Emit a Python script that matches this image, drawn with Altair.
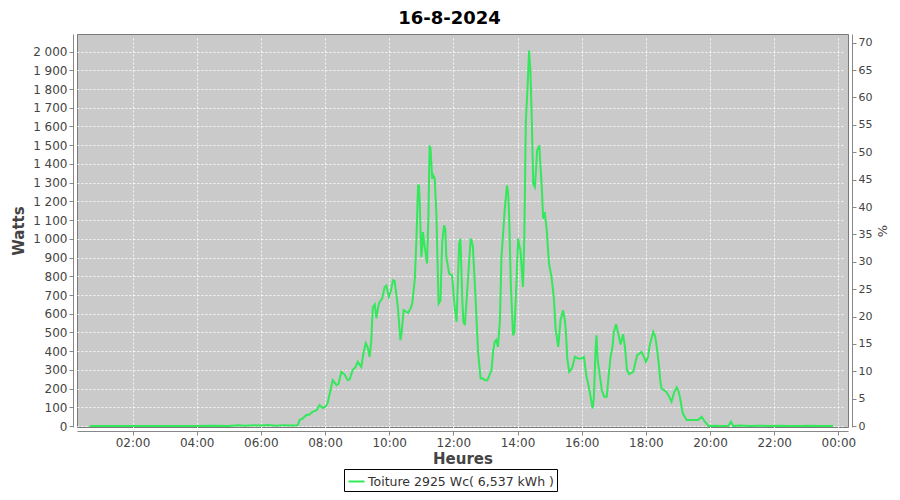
import altair as alt
import pandas as pd

# ---- data ----
hours = [0.66, 1.0, 1.5, 2.0, 2.5, 3.0, 3.5, 4.0, 4.5, 5.0, 5.3, 5.5, 5.8, 6.0, 6.2, 6.5, 6.7, 7.0, 7.1,
         7.15, 7.21, 7.30, 7.42, 7.52, 7.61, 7.74, 7.83, 7.93, 8.02, 8.08, 8.24, 8.36, 8.42, 8.51, 8.61,
         8.71, 8.77, 8.86, 8.95, 9.02, 9.13, 9.20, 9.27, 9.33, 9.39, 9.44, 9.49, 9.55, 9.60, 9.66, 9.70,
         9.78, 9.86, 9.91, 9.99, 10.05, 10.12, 10.17, 10.27, 10.35, 10.39, 10.45, 10.59, 10.67, 10.72,
         10.80, 10.85, 10.90, 10.93, 10.95, 11.00, 11.03, 11.05, 11.11, 11.18, 11.22, 11.26, 11.29, 11.34,
         11.37, 11.42, 11.47, 11.54, 11.60, 11.65, 11.71, 11.75, 11.78, 11.87, 11.96, 12.04, 12.10, 12.18,
         12.22, 12.28, 12.31, 12.36, 12.46, 12.54, 12.57, 12.61, 12.70, 12.77, 12.85, 12.92, 12.98, 13.06,
         13.19, 13.24, 13.29, 13.34, 13.39, 13.45, 13.50, 13.60, 13.67, 13.71, 13.74, 13.79, 13.86, 13.90,
         13.97, 14.02, 14.06, 14.09, 14.17, 14.21, 14.26, 14.31, 14.36, 14.40, 14.44, 14.49, 14.54, 14.57,
         14.61, 14.68, 14.71, 14.75, 14.80, 14.85, 14.91, 14.98, 15.06, 15.13, 15.19, 15.27, 15.34, 15.42,
         15.48, 15.51, 15.55, 15.61, 15.70, 15.79, 15.88, 16.00, 16.07, 16.15, 16.20, 16.26, 16.34, 16.38,
         16.43, 16.46, 16.50, 16.57, 16.63, 16.70, 16.78, 16.83, 16.90, 16.96, 17.00, 17.07, 17.14, 17.21,
         17.29, 17.35, 17.41, 17.48, 17.61, 17.66, 17.73, 17.87, 17.94, 18.00, 18.07, 18.11, 18.18, 18.23,
         18.29, 18.36, 18.41, 18.45, 18.49, 18.63, 18.70, 18.80, 18.88, 18.96, 19.01, 19.06, 19.15, 19.27,
         19.48, 19.63, 19.74, 19.84, 19.95, 20.16, 20.31, 20.57, 20.65, 20.73, 20.94, 21.25, 21.56, 21.87,
         22.18, 22.50, 22.81, 23.12, 23.43, 23.84]
watts = [0, 0, 1, 0, 1, 0, 1, 0, 2, 1, 4, 2, 5, 3, 6, 2, 5, 3, 4,
         5, 32, 40, 59, 62, 76, 85, 112, 96, 105, 122, 245, 218, 225, 290, 275,
         245, 250, 299, 315, 343, 316, 390, 443, 420, 370, 450, 636, 650, 576, 640, 663,
         680, 743, 750, 690, 720, 779, 775, 636, 459, 500, 619, 605, 630, 654,
         788, 1002, 1285, 1285, 1205, 903, 950, 1036, 956, 868, 1100, 1499, 1480, 1321,
         1340, 1321, 1134, 654, 672, 978, 1072, 1050, 903, 814, 805, 636, 556, 974,
         1001, 672, 560, 539, 796, 1001, 990, 956, 654, 396, 254, 255, 245, 245,
         299, 400, 450, 460, 423, 560, 903, 1152, 1285, 1240, 1116, 761, 485, 500,
         779, 1001, 960, 939, 743, 1000, 1632, 1800, 2005, 1900, 1668, 1294, 1276, 1350,
         1472, 1499, 1400, 1294, 1107, 1143, 1045, 868, 796, 690, 512, 423, 565, 619,
         560, 496, 361, 290, 310, 370, 361, 361, 370, 263, 228, 174, 94, 150,
         400, 485, 350, 263, 190, 156, 156, 250, 370, 423, 500, 544, 494, 436,
         491, 420, 300, 277, 290, 330, 379, 396, 370, 343, 370, 423, 470, 503,
         480, 396, 320, 240, 201, 183, 165, 130, 180, 206, 190, 156, 68, 32,
         32, 32, 50, 23, 0, 2, 1, 0, 23, 0, 3, 1, 2, 0,
         2, 1, 0, 2, 1, 0]

series_name = "Toiture 2925 Wc( 6,537 kWh )"
peak_wc = 2925
watt_ticks = list(range(0, 2001, 100))
pct_ticks = list(range(0, 71, 5))
hour_ticks = list(range(2, 25, 2))
title_text = "16-8-2024"

df = pd.DataFrame({"h": hours, "w": watts})
df["pct"] = df["w"] / peak_wc * 100
df["serie"] = series_name

FONT = "DejaVu Sans"
GREEN = "#33e85a"
W_DOMAIN = [-5, 2094]
P_DOMAIN = [W_DOMAIN[0] / peak_wc * 100, W_DOMAIN[1] / peak_wc * 100]
PLOT_W, PLOT_H = 771, 393

x_enc = alt.X(
    "h:Q",
    scale=alt.Scale(domain=[0.27, 24.30], nice=False, zero=False),
    axis=alt.Axis(
        values=hour_ticks,
        labelExpr="(datum.value % 24 < 10 ? '0' : '') + (datum.value % 24) + ':00'",
        title="Heures",
        titleFontSize=15,
        titleFontWeight="bold",
        titlePadding=3,
        labelFontSize=12,
        grid=True,
    ),
)

line = alt.Chart(df).mark_line(strokeWidth=2, clip=True).encode(
    x=x_enc,
    y=alt.Y(
        "w:Q",
        scale=alt.Scale(domain=W_DOMAIN, nice=False, zero=False),
        axis=alt.Axis(
            values=watt_ticks,
            labelExpr="replace(format(datum.value, ','), ',', ' ')",
            title="Watts",
            titleFontSize=15,
            titleFontWeight="bold",
            titlePadding=6,
            labelFontSize=12,
            grid=True,
        ),
    ),
    color=alt.Color(
        "serie:N",
        scale=alt.Scale(domain=[series_name], range=[GREEN]),
        legend=alt.Legend(
            title=None,
            orient="none",
            legendX=267,
            legendY=435,
            strokeColor="black",
            fillColor="white",
            padding=3,
            cornerRadius=0,
            symbolType="stroke",
            symbolStrokeWidth=2,
            symbolSize=260,
            labelFont=FONT,
            labelFontSize=12.5,
            labelColor="#333333",
            labelOffset=2,
            labelLimit=400,
        ),
    ),
)

pct = alt.Chart(df).mark_line(opacity=0).encode(
    x=x_enc,
    y=alt.Y(
        "pct:Q",
        scale=alt.Scale(domain=P_DOMAIN, nice=False, zero=False),
        axis=alt.Axis(
            orient="right",
            values=pct_ticks,
            title="%",
            titleAngle=270,
            titleX=30,
            titleY=PLOT_H / 2,
            titleAlign="center",
            titleBaseline="middle",
            titleFontSize=13,
            titleFontWeight="normal",
            labelFontSize=11,
            grid=False,
        ),
    ),
)

chart = (
    alt.layer(line, pct)
    .resolve_scale(y="independent")
    .properties(
        width=PLOT_W,
        height=PLOT_H,
        title=alt.TitleParams(
            title_text, font=FONT, fontSize=18, fontWeight="bold", color="black",
            anchor="middle", dx=-13, offset=6,
        ),
        autosize=alt.AutoSizeParams(type="none"),
        padding={"left": 69, "top": 26, "right": 43, "bottom": 65},
    )
    .configure_view(fill="#cacaca", stroke="#7a7a7a", strokeWidth=1)
    .configure_axis(
        labelFont=FONT,
        titleFont=FONT,
        labelColor="#444444",
        titleColor="#444444",
        domainColor="#888888",
        tickColor="#888888",
        tickSize=4,
        labelPadding=2,
        offset=4,
        gridColor="#ffffff",
        gridDash=[2, 2],
        gridOpacity=0.85,
        gridWidth=1,
    )
)

chart.save("out.html", embed_options={"renderer": "svg", "actions": False})
